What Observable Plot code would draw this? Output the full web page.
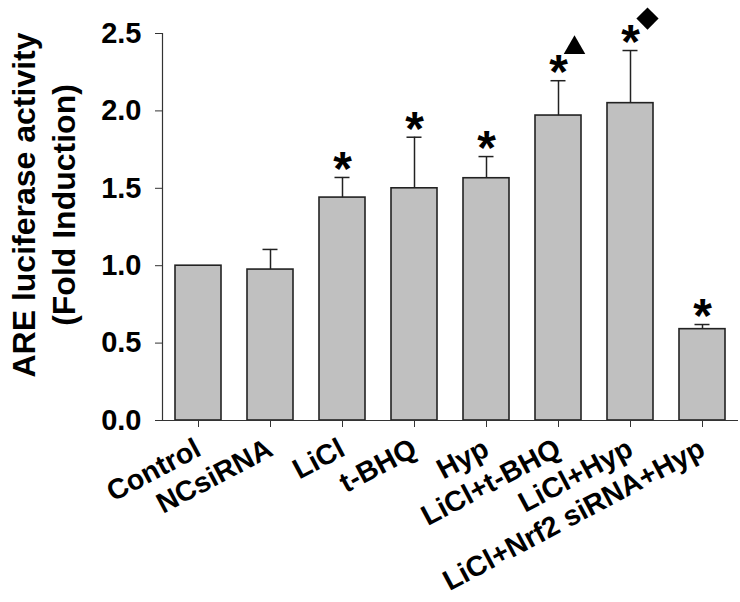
<!DOCTYPE html>
<html>
<head>
<meta charset="utf-8">
<script src="https://cdn.jsdelivr.net/npm/d3@7"></script>
<script src="https://cdn.jsdelivr.net/npm/@observablehq/plot@0.6"></script>
<style>
  html, body { margin: 0; padding: 0; background: #fff; }
</style>
</head>
<body>
<div id="chart"></div>
<script>
const categories = ["Control", "NCsiRNA", "LiCl", "t-BHQ", "Hyp", "LiCl+t-BHQ", "LiCl+Hyp", "LiCl+Nrf2 siRNA+Hyp"];
const means = [1.0, 0.975, 1.44, 1.50, 1.565, 1.97, 2.05, 0.59];
const errors = [0, 0.13, 0.13, 0.33, 0.14, 0.225, 0.34, 0.03];
const significance = ["", "", "*", "*", "*", "*", "*", "*"];
const extraSymbols = [null, null, null, null, null, "triangle", "diamond2", null];
const yTicks = [0, 0.5, 1.0, 1.5, 2.0, 2.5];
const yLabel = "ARE luciferase activity\n(Fold Induction)";

const data = categories.map((c, i) => ({
  cat: c, mean: means[i], err: errors[i], top: means[i] + errors[i],
  sig: significance[i], sym: extraSymbols[i]
}));

const FONT = "'Liberation Sans', Arial, Helvetica, sans-serif";

const chart = Plot.plot({
  width: 740,
  height: 602,
  marginLeft: 162,
  marginRight: 2,
  marginTop: 33,
  marginBottom: 182,
  style: { fontFamily: FONT, background: "white", color: "black" },
  x: { domain: categories, paddingInner: 0.36, paddingOuter: 0.18, label: null },
  y: { domain: [0, 2.5], label: null },
  marks: [
    Plot.barY(data, { x: "cat", y: "mean", fill: "#c0c0c0", stroke: "#222", strokeWidth: 1.6 }),
    Plot.ruleX(data.filter(d => d.err > 0), { x: "cat", y1: "mean", y2: "top", stroke: "#222", strokeWidth: 1.5 }),
    Plot.tickY(data.filter(d => d.err > 0), { x: "cat", y: "top", insetLeft: 15.5, insetRight: 15.5, stroke: "#222", strokeWidth: 1.5 }),
    Plot.text(data.filter(d => d.sig), { x: "cat", y: "top", text: "sig", dy: -8, fontSize: 48, fontWeight: "bold", fill: "black" }),
    Plot.dot(data.filter(d => d.sym === "triangle"), { x: "cat", y: "top", symbol: "sym", r: 8, fill: "black", stroke: "none", dx: 16, dy: -33 }),
    Plot.dot(data.filter(d => d.sym === "diamond2"), { x: "cat", y: "top", symbol: "sym", r: 10, fill: "black", stroke: "none", dx: 17, dy: -32 }),
    Plot.ruleY([0], { stroke: "#333", strokeWidth: 1.2 }),
    Plot.frame({ anchor: "left", stroke: "#333", strokeWidth: 1.2 }),
    Plot.axisY({ ticks: yTicks, tickFormat: d => d.toFixed(1), tickSize: 7, tickPadding: 14, fontSize: 29, fontWeight: "bold", label: null, stroke: "#333" }),
    Plot.axisX({ tickSize: 7, tickPadding: 19, tickRotate: -28, fontSize: 28.5, fontWeight: "bold", label: null, stroke: "#333" }),
    Plot.text([yLabel], { frameAnchor: "left", textAnchor: "middle", dx: -120, dy: -22, rotate: -90, fontSize: 32, fontWeight: "bold", lineHeight: 1.22, fill: "black" })
  ]
});
document.getElementById("chart").appendChild(chart);
</script>
</body>
</html>
